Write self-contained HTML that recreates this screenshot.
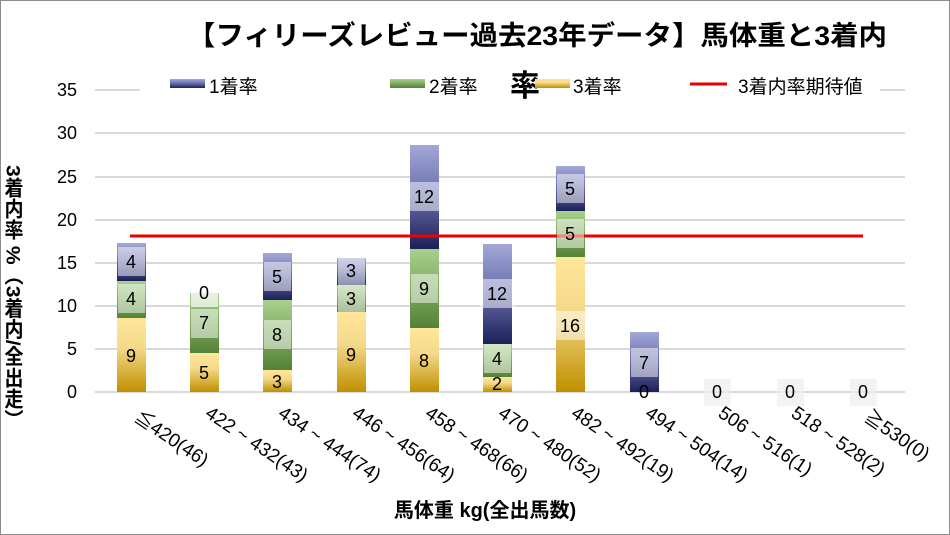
<!DOCTYPE html>
<html><head><meta charset="utf-8"><style>
body{margin:0;background:#fff}
svg{display:block;font-family:"Liberation Sans","Noto Sans CJK JP",sans-serif}
</style></head><body>
<svg width="950" height="535" viewBox="0 0 950 535" xmlns="http://www.w3.org/2000/svg">
<defs>
<linearGradient id="b" x1="0" y1="0" x2="0" y2="1"><stop offset="0" stop-color="#a3a8d6"/><stop offset="0.45" stop-color="#6d72b0"/><stop offset="1" stop-color="#1d2058"/></linearGradient>
<linearGradient id="g" x1="0" y1="0" x2="0" y2="1"><stop offset="0" stop-color="#a9d18e"/><stop offset="1" stop-color="#548235"/></linearGradient>
<linearGradient id="y" x1="0" y1="0" x2="0" y2="1"><stop offset="0" stop-color="#ffe699"/><stop offset="0.4" stop-color="#f5d98a"/><stop offset="1" stop-color="#bf9000"/></linearGradient>
</defs>
<rect x="0.5" y="0.5" width="949" height="534" fill="#fff" stroke="#8c8c8c"/>
<text x="537" y="45" font-size="27" font-weight="bold" text-anchor="middle" textLength="700" lengthAdjust="spacingAndGlyphs">【フィリーズレビュー過去23年データ】馬体重と3着内</text>
<g stroke="#d9d9d9" stroke-width="2">
<line x1="95" x2="905" y1="392" y2="392"/><line x1="95" x2="905" y1="349" y2="349"/><line x1="95" x2="905" y1="306" y2="306"/><line x1="95" x2="905" y1="263" y2="263"/><line x1="95" x2="905" y1="220" y2="220"/><line x1="95" x2="905" y1="177" y2="177"/><line x1="95" x2="905" y1="133" y2="133"/><line x1="95" x2="140" y1="90" y2="90"/><line x1="880" x2="905" y1="90" y2="90"/>
</g>
<g font-size="18" text-anchor="end">
<text x="77" y="398">0</text><text x="77" y="355">5</text><text x="77" y="312">10</text><text x="77" y="269">15</text><text x="77" y="226">20</text><text x="77" y="183">25</text><text x="77" y="139">30</text><text x="77" y="96">35</text>
</g>
<text x="12" y="165" font-size="19" font-weight="bold" style="writing-mode:vertical-rl" textLength="265" lengthAdjust="spacingAndGlyphs">3着内率 %（3着内/全出走）</text>
<!-- legend -->
<rect x="170" y="79" width="35" height="9" fill="url(#b)"/><text x="209" y="93" font-size="19">1着率</text>
<rect x="390" y="79" width="35" height="9" fill="url(#g)"/><text x="429" y="93" font-size="19">2着率</text>
<text x="510" y="96" font-size="30" font-weight="bold">率</text>
<rect x="535" y="79" width="35" height="9" fill="url(#y)"/><text x="573" y="93" font-size="19">3着率</text>
<line x1="690" x2="727" y1="84" y2="84" stroke="#e00" stroke-width="3"/><text x="738" y="93" font-size="19">3着内率期待値</text>
<!-- bars -->
<g>
<rect x="117" y="318" width="29" height="74" fill="url(#y)"/><rect x="117" y="281" width="29" height="37" fill="url(#g)"/><rect x="117" y="243" width="29" height="38" fill="url(#b)"/>
<rect x="190" y="353" width="29" height="39" fill="url(#y)"/><rect x="190" y="293" width="29" height="60" fill="url(#g)"/>
<rect x="263" y="370" width="29" height="22" fill="url(#y)"/><rect x="263" y="300" width="29" height="70" fill="url(#g)"/><rect x="263" y="253" width="29" height="47" fill="url(#b)"/>
<rect x="337" y="312" width="29" height="80" fill="url(#y)"/><rect x="337" y="285" width="29" height="27" fill="url(#g)"/><rect x="337" y="258" width="29" height="27" fill="url(#b)"/>
<rect x="410" y="328" width="29" height="64" fill="url(#y)"/><rect x="410" y="249" width="29" height="79" fill="url(#g)"/><rect x="410" y="145" width="29" height="104" fill="url(#b)"/>
<rect x="483" y="377" width="29" height="15" fill="url(#y)"/><rect x="483" y="344" width="29" height="33" fill="url(#g)"/><rect x="483" y="244" width="29" height="100" fill="url(#b)"/>
<rect x="556" y="257" width="29" height="135" fill="url(#y)"/><rect x="556" y="211" width="29" height="46" fill="url(#g)"/><rect x="556" y="166" width="29" height="45" fill="url(#b)"/>
<rect x="630" y="332" width="29" height="60" fill="url(#b)"/>
</g>
<line x1="130" x2="863" y1="236" y2="236" stroke="#e00" stroke-width="3"/>
<!-- data labels -->
<g fill="#fff" fill-opacity="0.5">
<rect x="118" y="247" width="27" height="29"/><rect x="118" y="284" width="27" height="29"/>
<rect x="191" y="278" width="27" height="29" fill-opacity="0.7"/><rect x="191" y="309" width="27" height="29"/>
<rect x="264" y="262" width="27" height="29"/><rect x="264" y="320" width="27" height="29"/>
<rect x="338" y="258" width="27" height="27"/><rect x="338" y="285" width="27" height="27"/>
<rect x="407" y="182" width="35" height="29"/><rect x="411" y="274" width="27" height="29"/>
<rect x="480" y="279" width="35" height="29"/><rect x="484" y="344" width="27" height="29"/>
<rect x="557" y="174" width="27" height="29"/><rect x="557" y="219" width="27" height="29"/><rect x="555" y="311" width="31" height="29"/>
<rect x="631" y="348" width="27" height="29"/>
<rect x="704" y="379" width="27" height="27" fill="#eee" fill-opacity="0.7"/><rect x="777" y="379" width="27" height="27" fill="#eee" fill-opacity="0.7"/><rect x="850" y="379" width="27" height="27" fill="#eee" fill-opacity="0.7"/>
</g>
<g font-size="18" text-anchor="middle">
<text x="131" y="362">9</text><text x="131" y="305">4</text><text x="131" y="268">4</text>
<text x="204" y="379">5</text><text x="204" y="329">7</text><text x="204" y="299">0</text>
<text x="277" y="388">3</text><text x="277" y="341">8</text><text x="277" y="283">5</text>
<text x="351" y="361">9</text><text x="351" y="305">3</text><text x="351" y="277">3</text>
<text x="424" y="367">8</text><text x="424" y="295">9</text><text x="424" y="203">12</text>
<text x="497" y="390">2</text><text x="497" y="365">4</text><text x="497" y="300">12</text>
<text x="570" y="332">16</text><text x="570" y="240">5</text><text x="570" y="195">5</text>
<text x="644" y="369">7</text><text x="644" y="398">0</text>
<text x="717" y="398">0</text><text x="790" y="398">0</text><text x="863" y="398">0</text>
</g>
<g font-size="19">
<text transform="translate(133,420) rotate(34)">≦420(46)</text>
<text transform="translate(204,416) rotate(34)">422 ~ 432(43)</text>
<text transform="translate(277,416) rotate(34)">434 ~ 444(74)</text>
<text transform="translate(351,416) rotate(34)">446 ~ 456(64)</text>
<text transform="translate(424,416) rotate(34)">458 ~ 468(66)</text>
<text transform="translate(497,416) rotate(34)">470 ~ 480(52)</text>
<text transform="translate(570,416) rotate(34)">482 ~ 492(19)</text>
<text transform="translate(644,416) rotate(34)">494 ~ 504(14)</text>
<text transform="translate(717,416) rotate(34)">506 ~ 516(1)</text>
<text transform="translate(790,416) rotate(34)">518 ~ 528(2)</text>
<text transform="translate(863,420) rotate(34)">≧530(0)</text>
</g>
<text x="485" y="517" font-size="20" font-weight="bold" text-anchor="middle">馬体重 kg(全出馬数)</text>
</svg>
</body></html>
